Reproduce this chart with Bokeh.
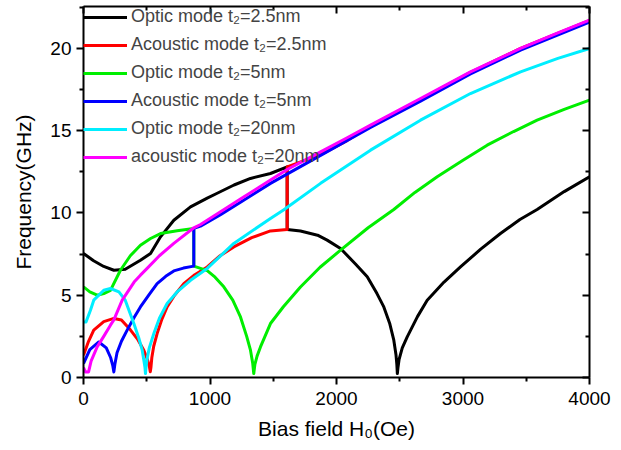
from bokeh.plotting import figure
from bokeh.models import LinearAxis, FixedTicker, Range1d, Legend, LegendItem, CustomJSTickFormatter
from bokeh.embed import file_html
from bokeh.resources import INLINE

# ---- data ----
optic_25_H = [0, 80, 160, 240, 330, 450, 530, 609, 714, 846, 978, 1057, 1190, 1320, 1478, 1610,
              1610, 1715, 1850, 1926, 2032, 2150, 2243, 2320, 2374, 2420, 2453, 2470, 2477, 2481,
              2486, 2495, 2520, 2559, 2640, 2717, 2850, 2980, 3140, 3296, 3450, 3586, 3800, 4000]
optic_25_f = [7.54, 7.1, 6.75, 6.52, 6.58, 7.13, 7.54, 8.55, 9.56, 10.37, 10.9, 11.2, 11.7, 12.1, 12.4, 12.8,
              9.0, 8.9, 8.65, 8.35, 7.84, 6.9, 6.12, 5.1, 4.29, 3.3, 2.27, 1.4, 0.8, 0.24,
              0.6, 1.1, 1.8, 2.47, 3.7, 4.7, 5.8, 6.72, 7.8, 8.75, 9.6, 10.21, 11.3, 12.2]

acou_25_H = [0, 40, 81, 160, 240, 300, 372, 430, 477, 505, 520, 528, 533, 540, 555, 582, 620, 661, 720,
             793, 880, 978, 1080, 1188, 1330, 1478, 1610, 1610, 1874, 2084, 2269, 2664, 3059, 3455, 4000]
acou_25_f = [1.36, 2.2, 2.88, 3.4, 3.59, 3.5, 2.88, 2.3, 1.66, 1.1, 0.7, 0.35, 0.6, 1.2, 1.9, 2.67, 3.55, 4.29, 5.0,
             5.71, 6.25, 6.72, 7.4, 7.94, 8.5, 8.91, 9.0, 12.8, 13.55, 14.4, 15.3, 16.9, 18.55, 20.0, 21.7]

optic_5_H = [0, 50, 108, 160, 213, 292, 370, 450, 530, 609, 740, 872, 872, 978, 1040, 1109, 1180, 1241, 1290, 1320,
             1337, 1346, 1355, 1372, 1399, 1478, 1580, 1715, 1870, 2032, 2250, 2453, 2620, 2796, 3000, 3191,
             3400, 3586, 3800, 4000]
optic_5_f = [5.51, 5.2, 5.0, 5.1, 5.3, 6.52, 7.4, 8.04, 8.45, 8.75, 8.92, 9.06, 6.77, 6.5, 6.1, 5.51, 4.7, 3.68, 2.5, 1.66,
             0.9, 0.24, 0.8, 1.3, 1.86, 3.28, 4.3, 5.5, 6.7, 7.74, 9.1, 10.21, 11.25, 12.2, 13.2, 14.12,
             14.95, 15.64, 16.3, 16.86]

acou_5_H = [0, 50, 121, 180, 215, 232, 240, 248, 265, 300, 345, 400, 450, 520, 582, 650, 714, 790, 872,
            872, 925, 1083, 1241, 1478, 1874, 2269, 2664, 3059, 3455, 4000]
acou_5_f = [0.85, 1.7, 2.16, 1.8, 1.2, 0.7, 0.34, 0.8, 1.5, 2.2, 2.88, 3.65, 4.29, 5.05, 5.71, 6.15, 6.48, 6.65, 6.77,
            9.06, 9.2, 9.9, 10.65, 11.8, 13.5, 15.2, 16.8, 18.45, 19.9, 21.6]

optic_20_H = [0, 20, 55, 81, 160, 213, 280, 330, 398, 437, 464, 478, 486, 490, 494, 502, 520, 556, 600, 661,
              740, 846, 978, 1188, 1478, 1584, 1874, 2269, 2664, 3059, 3455, 3750, 4000]
optic_20_f = [3.38, 3.38, 4.09, 4.7, 5.3, 5.41, 5.2, 4.7, 3.28, 2.4, 1.66, 1.0, 0.6, 0.24, 0.6, 1.1, 1.8, 2.67, 3.6, 4.5,
              5.2, 5.91, 6.63, 8.15, 9.67, 10.2, 11.8, 13.82, 15.64, 17.26, 18.58, 19.4, 20.0]

acou_20_H = [0, 16, 40, 60, 108, 160, 213, 240, 306, 400, 450, 503, 600, 714, 872, 925, 1083, 1250, 1478,
             1610, 1874, 2084, 2269, 2664, 3059, 3455, 3750, 4000]
acou_20_f = [0.6, 0.34, 0.34, 1.0, 1.86, 2.5, 3.18, 3.5, 4.7, 5.8, 6.22, 6.63, 7.4, 8.15, 9.1, 9.3, 10.07, 10.9, 12.0,
             12.64, 13.71, 14.57, 15.34, 16.96, 18.58, 20.0, 20.95, 21.72]

labels = ["Optic mode t\u2082=2.5nm", "Acoustic mode t\u2082=2.5nm", "Optic mode t\u2082=5nm",
          "Acoustic mode t\u2082=5nm", "Optic mode t\u2082=20nm", "acoustic mode t\u2082=20nm"]
colors = ["#000000", "#ff0000", "#00ee00", "#0000ff", "#00eeff", "#ff00ff"]

x_ticks = [0, 1000, 2000, 3000, 4000]
x_minor = [500, 1500, 2500, 3500]
y_ticks = [0, 5, 10, 15, 20]
y_minor = [2.5, 7.5, 12.5, 17.5, 22.5]

series = [(optic_25_H, optic_25_f), (acou_25_H, acou_25_f), (optic_5_H, optic_5_f),
          (acou_5_H, acou_5_f), (optic_20_H, optic_20_f), (acou_20_H, acou_20_f)]

FONT = "Liberation Sans"

p = figure(width=621, height=448, output_backend="svg", toolbar_location=None,
           x_range=Range1d(0, 4000), y_range=Range1d(0, 22.55),
           min_border_left=83, min_border_right=32, min_border_top=6, min_border_bottom=71)
p.outline_line_color = None
p.grid.visible = False
p.background_fill_color = "white"

items = []
for (hx, fy), lab, col in zip(series, labels, colors):
    r = p.line(hx, fy, line_color=col, line_width=3, line_join="round")
    items.append(LegendItem(label=lab, renderers=[r]))

legend = Legend(items=items, location="top_left", margin=0, padding=0,
                glyph_width=44, glyph_height=14, label_height=14, spacing=7, label_standoff=4,
                label_text_font=FONT, label_text_font_size="18px",
                background_fill_alpha=0, border_line_color=None)
p.add_layout(legend, "center")

def style_main(ax):
    ax.axis_line_width = 2
    ax.major_tick_line_width = 2
    ax.minor_tick_line_width = 2
    ax.major_tick_out = 7
    ax.major_tick_in = 0
    ax.minor_tick_out = 4
    ax.minor_tick_in = 0
    ax.major_label_text_font = FONT
    ax.major_label_text_font_size = "19px"
    ax.major_label_text_color = "#000000"
    ax.axis_label_text_font = FONT
    ax.axis_label_text_font_size = "21px"
    ax.axis_label_text_font_style = "normal"
    ax.axis_label_text_color = "#000000"

xa = p.xaxis[0]
xa.ticker = FixedTicker(ticks=x_ticks, minor_ticks=x_minor)
style_main(xa)
xa.axis_label = "Bias field H\u2080(Oe)"
xa.major_label_standoff = 7
xa.axis_label_standoff = 9

ya = p.yaxis[0]
ya.ticker = FixedTicker(ticks=y_ticks, minor_ticks=y_minor)
style_main(ya)
ya.axis_label = "Frequency(GHz)"
ya.major_label_standoff = 5
ya.axis_label_standoff = 12

def mirror(ticker):
    ax = LinearAxis(ticker=ticker)
    ax.axis_line_width = 2
    ax.major_tick_line_width = 2
    ax.minor_tick_line_width = 2
    ax.major_tick_in = 7
    ax.major_tick_out = 0
    ax.minor_tick_in = 4
    ax.minor_tick_out = 0
    ax.formatter = CustomJSTickFormatter(code="return '';")
    ax.major_label_standoff = 0
    return ax

p.add_layout(mirror(FixedTicker(ticks=x_ticks, minor_ticks=x_minor)), "above")
p.add_layout(mirror(FixedTicker(ticks=y_ticks, minor_ticks=y_minor)), "right")

open("out.html", "w").write(file_html(p, INLINE))
